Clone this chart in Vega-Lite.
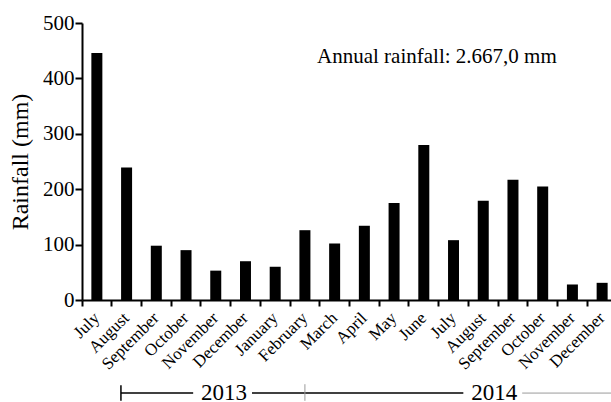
{
  "$schema": "https://vega.github.io/schema/vega-lite/v6.json",
  "width": 529,
  "height": 277,
  "autosize": "none",
  "padding": {"left": 82, "top": 23, "right": 0, "bottom": 102},
  "background": "white",
  "config": {
    "font": "Liberation Serif",
    "view": {"stroke": null},
    "axis": {"labelColor": "black", "titleColor": "black", "domainColor": "black", "tickColor": "black", "labelFont": "Liberation Serif", "titleFont": "Liberation Serif"}
  },
  "datasets": {
    "rain": [
      {"period": "July 2013", "rainfall": 446},
      {"period": "August 2013", "rainfall": 239},
      {"period": "September 2013", "rainfall": 98},
      {"period": "October 2013", "rainfall": 90},
      {"period": "November 2013", "rainfall": 53},
      {"period": "December 2013", "rainfall": 70},
      {"period": "January 2014", "rainfall": 60},
      {"period": "February 2014", "rainfall": 126},
      {"period": "March 2014", "rainfall": 102},
      {"period": "April 2014", "rainfall": 134},
      {"period": "May 2014", "rainfall": 175},
      {"period": "June 2014", "rainfall": 280},
      {"period": "July 2014", "rainfall": 108},
      {"period": "August 2014", "rainfall": 179},
      {"period": "September 2014", "rainfall": 217},
      {"period": "October 2014", "rainfall": 205},
      {"period": "November 2014", "rainfall": 28},
      {"period": "December 2014", "rainfall": 31}
    ],
    "segments": [
      {"kind": "main", "from": 1.31, "to": 3.74},
      {"kind": "main", "from": 5.72, "to": 12.83},
      {"kind": "tail", "from": 14.81, "to": 18}
    ],
    "caps": [
      {"kind": "main", "at": 1.31},
      {"kind": "tail", "at": 7.5}
    ],
    "years": [
      {"year": "2013", "center": 4.78},
      {"year": "2014", "center": 13.87}
    ],
    "note": [
      {"text": "Annual rainfall: 2.667,0 mm", "center": 11.94}
    ]
  },
  "layer": [
    {
      "data": {"name": "rain"},
      "mark": {"type": "bar", "color": "black", "size": 11},
      "encoding": {
        "x": {
          "field": "period", "type": "ordinal", "sort": null,
          "scale": {"range": [0, 535], "paddingInner": 0, "paddingOuter": 0},
          "axis": {
            "title": null, "orient": "bottom", "bandPosition": 0, "ticks": true,
            "labelExpr": "split(datum.value, ' ')[0]",
            "labelAngle": -45, "labelAlign": "right", "labelBaseline": "middle",
            "labelFontSize": 17, "labelPadding": 9, "tickSize": 6, "tickWidth": 2, "domainWidth": 2
          }
        },
        "y": {
          "field": "rainfall", "type": "quantitative",
          "scale": {"domain": [0, 500]},
          "axis": {
            "title": "Rainfall (mm)", "orient": "left", "titleFontSize": 24, "titleFontWeight": "normal",
            "labelFontSize": 21, "tickSize": 7, "tickWidth": 2, "domainWidth": 2, "grid": false, "ticks": true,
            "values": [0, 100, 200, 300, 400, 500], "labelPadding": 1, "titlePadding": 10
          }
        }
      }
    },
    {
      "layer": [
        {
          "data": {"name": "segments"},
          "transform": [{"filter": "datum.kind == 'main'"}],
          "mark": {"type": "rule", "color": "black", "strokeWidth": 1.5},
          "encoding": {
            "x": {"field": "from", "type": "quantitative", "scale": {"domain": [0, 18], "range": [0, 535], "nice": false, "zero": false}, "axis": null},
            "x2": {"field": "to"},
            "y": {"datum": -168, "type": "quantitative", "axis": null}
          }
        },
        {
          "data": {"name": "segments"},
          "transform": [{"filter": "datum.kind == 'tail'"}],
          "mark": {"type": "rule", "color": "#9a9a9a", "strokeWidth": 1},
          "encoding": {
            "x": {"field": "from", "type": "quantitative", "axis": null},
            "x2": {"field": "to"},
            "y": {"datum": -168, "type": "quantitative", "axis": null}
          }
        },
        {
          "data": {"name": "caps"},
          "transform": [{"filter": "datum.kind == 'main'"}],
          "mark": {"type": "rule", "color": "black", "strokeWidth": 1.5},
          "encoding": {
            "x": {"field": "at", "type": "quantitative", "axis": null},
            "y": {"datum": -154, "type": "quantitative", "axis": null},
            "y2": {"datum": -182}
          }
        },
        {
          "data": {"name": "caps"},
          "transform": [{"filter": "datum.kind == 'tail'"}],
          "mark": {"type": "rule", "color": "#9a9a9a", "strokeWidth": 1},
          "encoding": {
            "x": {"field": "at", "type": "quantitative", "axis": null},
            "y": {"datum": -152, "type": "quantitative", "axis": null},
            "y2": {"datum": -182}
          }
        },
        {
          "data": {"name": "years"},
          "mark": {"type": "text", "fontSize": 23, "color": "black", "baseline": "middle", "align": "center", "font": "Liberation Serif"},
          "encoding": {
            "x": {"field": "center", "type": "quantitative", "axis": null},
            "y": {"datum": -168, "type": "quantitative", "axis": null},
            "text": {"field": "year"}
          }
        },
        {
          "data": {"name": "note"},
          "mark": {"type": "text", "fontSize": 21, "color": "black", "baseline": "middle", "align": "center", "font": "Liberation Serif"},
          "encoding": {
            "x": {"field": "center", "type": "quantitative", "axis": null},
            "y": {"datum": 438.6, "type": "quantitative", "axis": null},
            "text": {"field": "text"}
          }
        }
      ]
    }
  ],
  "resolve": {"scale": {"x": "independent"}, "axis": {"y": "independent"}}
}
